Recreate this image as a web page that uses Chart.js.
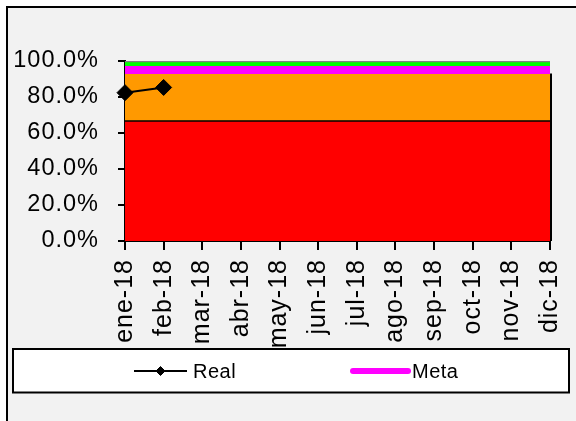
<!DOCTYPE html>
<html>
<head>
<meta charset="utf-8">
<script src="https://cdn.jsdelivr.net/npm/chart.js@4"></script>
<style>
  html, body { margin: 0; padding: 0; background: #fff; }
  canvas { display: block; }
</style>
</head>
<body>
<canvas id="chart" width="576" height="421"></canvas>
<script>
// Monthly categories
const months = ['ene-18', 'feb-18', 'mar-18', 'abr-18', 'may-18', 'jun-18',
                'jul-18', 'ago-18', 'sep-18', 'oct-18', 'nov-18', 'dic-18'];

// Measured compliance (only the first two months reported)
const real = [82.4, 85.3, null, null, null, null, null, null, null, null, null, null];

// Target line
const meta = [95, 95, 95, 95, 95, 95, 95, 95, 95, 95, 95, 95];

// Background bands: red up to 66.7 %, orange up to 93 %, green up to 100 %
const bandRed    = [66.7, 66.7, 66.7, 66.7, 66.7, 66.7, 66.7, 66.7, 66.7, 66.7, 66.7, 66.7];
const bandOrange = [93, 93, 93, 93, 93, 93, 93, 93, 93, 93, 93, 93];
const bandGreen  = [100, 100, 100, 100, 100, 100, 100, 100, 100, 100, 100, 100];
const greenFloor = 93;

// Y axis tick values
const yTicks = [0, 20, 40, 60, 80, 100];

const FONT = 'Liberation Sans, Arial, sans-serif';

// Grey chart background with black top/left frame edges
const frame = {
  id: 'frame',
  beforeDraw(chart) {
    const ctx = chart.ctx;
    ctx.save();
    ctx.fillStyle = '#ffffff';
    ctx.fillRect(0, 0, chart.width, chart.height);
    ctx.fillStyle = '#f2f2f2';
    ctx.fillRect(6, 6, chart.width - 6, chart.height - 6);
    ctx.fillStyle = '#000000';
    ctx.fillRect(6, 6, chart.width - 6, 2);
    ctx.fillRect(6, 6, 2, chart.height - 6);
    ctx.restore();
  }
};

// Slightly wider tracking for the axis labels
const tracking = {
  id: 'tracking',
  beforeLayout(chart) { chart.ctx.letterSpacing = '1px'; },
  beforeDraw(chart) { chart.ctx.letterSpacing = '1px'; }
};

// Black right edge of the coloured areas
const areaEdge = {
  id: 'areaEdge',
  afterDatasetsDraw(chart) {
    const { ctx, chartArea, scales } = chart;
    const yTop = scales.y.getPixelForValue(bandOrange[bandOrange.length - 1]);
    ctx.save();
    ctx.strokeStyle = '#000';
    ctx.lineWidth = 2;
    ctx.beginPath();
    ctx.moveTo(chartArea.right + 1, yTop);
    ctx.lineTo(chartArea.right + 1, chartArea.bottom);
    ctx.stroke();
    ctx.restore();
  }
};

// Boxed legend showing the two series
const boxLegend = {
  id: 'boxLegend',
  afterDraw(chart) {
    const ctx = chart.ctx;
    const ds = chart.data.datasets;
    ctx.save();
    ctx.letterSpacing = '0.5px';
    ctx.fillStyle = '#fff';
    ctx.fillRect(13, 349, 556, 43.5);
    ctx.strokeStyle = '#000';
    ctx.lineWidth = 2;
    ctx.strokeRect(13, 349, 556, 43.5);

    const cy = 371;
    const items = [
      { d: ds[0], x0: 134, x1: 187, tx: 193 },
      { d: ds[1], x0: 353, x1: 408, tx: 412 }
    ];
    items.forEach(it => {
      ctx.beginPath();
      ctx.strokeStyle = it.d.borderColor;
      ctx.lineWidth = it.d === ds[1] ? 6 : 2;
      ctx.lineCap = it.d === ds[1] ? 'round' : 'butt';
      ctx.moveTo(it.x0, cy);
      ctx.lineTo(it.x1, cy);
      ctx.stroke();
      if (it.d === ds[0]) {
        ctx.fillStyle = '#000';
        ctx.strokeStyle = '#000';
        ctx.lineWidth = 1;
        Chart.helpers.drawPoint(ctx, { pointStyle: 'rectRot', radius: 4.5, borderWidth: 1, rotation: 0 },
                                (it.x0 + it.x1) / 2, cy);
      }
      ctx.fillStyle = '#000';
      ctx.font = '20px ' + FONT;
      ctx.textBaseline = 'middle';
      ctx.textAlign = 'left';
      ctx.fillText(it.d.label, it.tx, cy + 1);
    });
    ctx.restore();
  }
};

new Chart(document.getElementById('chart'), {
  type: 'line',
  data: {
    labels: months,
    datasets: [
      {
        label: 'Real',
        data: real,
        borderColor: '#000000',
        backgroundColor: '#000000',
        borderWidth: 2,
        pointStyle: 'rectRot',
        pointRadius: 8,
        pointBorderWidth: 1,
        pointBackgroundColor: '#000000',
        pointBorderColor: '#000000',
        fill: false,
        clip: false,
        tension: 0
      },
      {
        label: 'Meta',
        data: meta,
        borderColor: '#ff00ff',
        borderWidth: 8,
        pointRadius: 0,
        fill: false,
        tension: 0
      },
      {
        label: 'Óptimo',
        data: bandGreen,
        borderColor: '#808080',
        borderWidth: 2.5,
        backgroundColor: '#00ff00',
        pointRadius: 0,
        fill: { value: greenFloor },
        tension: 0
      },
      {
        label: 'Aceptable',
        data: bandOrange,
        borderWidth: 0,
        borderColor: 'rgba(0,0,0,0)',
        backgroundColor: '#ff9900',
        pointRadius: 0,
        fill: '+1',
        tension: 0
      },
      {
        label: 'Crítico',
        data: bandRed,
        borderColor: '#000000',
        borderWidth: 1.5,
        backgroundColor: '#ff0000',
        pointRadius: 0,
        fill: 'origin',
        tension: 0
      }
    ]
  },
  options: {
    responsive: false,
    animation: false,
    devicePixelRatio: 1,
    layout: { padding: { top: 61, right: 26, left: 0, bottom: 0 } },
    plugins: {
      legend: { display: false },
      tooltip: { enabled: false },
      filler: { drawTime: 'beforeDatasetsDraw' }
    },
    scales: {
      x: {
        type: 'category',
        offset: false,
        z: 1,
        grid: { offset: false, drawOnChartArea: false, drawTicks: true, tickLength: 9, color: '#000', lineWidth: 2 },
        border: { display: true, color: '#000', width: 2 },
        ticks: {
          autoSkip: false,
          maxRotation: 90,
          minRotation: 90,
          padding: 9,
          color: '#000',
          font: { family: FONT, size: 25 }
        },
        afterFit(scale) {
          scale.height = 180;
          scale.paddingLeft = 0;
          scale.paddingRight = 0;
        }
      },
      y: {
        min: 0,
        max: 100,
        z: 1,
        afterBuildTicks(scale) { scale.ticks = yTicks.map(v => ({ value: v })); },
        grid: { drawOnChartArea: false, drawTicks: true, tickLength: 7, color: '#000', lineWidth: 2 },
        border: { display: true, color: '#000', width: 2 },
        ticks: {
          padding: 19,
          color: '#000',
          font: { family: FONT, size: 23.5 },
          callback: v => v.toFixed(1) + '%'
        },
        afterFit(scale) {
          scale.width = 125;
          scale.paddingTop = 0;
          scale.paddingBottom = 0;
        }
      }
    }
  },
  plugins: [frame, tracking, areaEdge, boxLegend]
});
</script>
</body>
</html>
